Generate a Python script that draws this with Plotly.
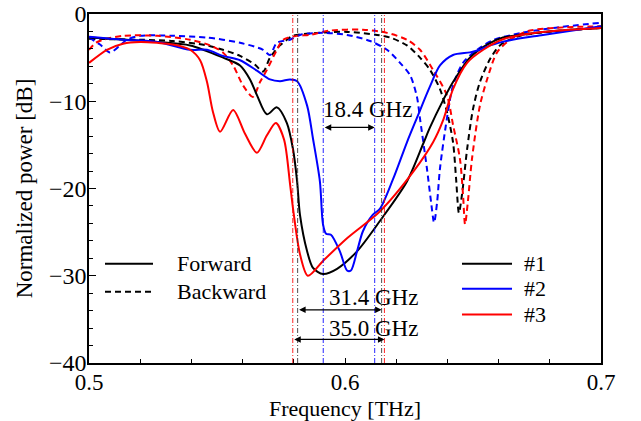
import plotly.graph_objects as go

# ---------------- data ----------------
# Device #1 (black)
f1_fwd = [0.5, 0.5266, 0.5395, 0.5524, 0.559, 0.5629, 0.5656, 0.5695, 0.5734, 0.5773,
          0.5797, 0.5813, 0.5824, 0.5852, 0.5875, 0.5914, 0.5969, 0.6047, 0.6137, 0.6242,
          0.6305, 0.6332, 0.6383, 0.6422, 0.6488, 0.6555, 0.6617, 0.6711, 0.684, 0.7]
p1_fwd = [-2.7, -3.2, -3.6, -5.0, -5.9, -7.5, -9.3, -11.5, -10.7, -12.5,
          -15.5, -19.2, -23.0, -27.2, -29.1, -29.8, -29.2, -27.2, -23.7, -19.2,
          -14.9, -13.0, -9.9, -7.8, -5.0, -3.5, -2.7, -2.3, -1.9, -1.6]
f1_bwd = [0.5, 0.5199, 0.5328, 0.5461, 0.5523, 0.559, 0.5648, 0.568, 0.5707, 0.5746,
          0.5773, 0.5797, 0.5875, 0.6008, 0.6125, 0.6176, 0.6242, 0.6293, 0.6332, 0.6371,
          0.6398, 0.6422, 0.6434, 0.6445, 0.6457, 0.6477, 0.65, 0.6527, 0.6566, 0.6605,
          0.6684, 0.7]
p1_bwd = [-2.85, -2.95, -3.1, -3.6, -4.1, -4.8, -5.8, -6.6, -5.0, -3.6,
          -2.95, -2.5, -2.2, -2.05, -2.4, -2.7, -3.6, -5.0, -6.4, -8.6,
          -11.2, -14.7, -18.9, -22.8, -20.7, -15.5, -10.9, -7.8, -5.2, -3.6,
          -2.5, -1.6]

# Device #2 (blue)
f2_fwd = [0.5, 0.5133, 0.5266, 0.5395, 0.5461, 0.5523, 0.559, 0.5656, 0.5707, 0.5746,
          0.5785, 0.5813, 0.5852, 0.5875, 0.5902, 0.5914, 0.5926, 0.5945, 0.598, 0.6008,
          0.6023, 0.6047, 0.607, 0.6109, 0.6137, 0.6188, 0.6242, 0.6281, 0.6332, 0.6371,
          0.6422, 0.6488, 0.6527, 0.6566, 0.6645, 0.6773, 0.7]
p2_fwd = [-2.6, -2.95, -3.2, -4.1, -4.1, -4.8, -5.3, -6.5, -7.5, -7.7,
          -7.5, -7.7, -10.5, -14.3, -19.2, -24.1, -25.2, -25.3, -27.2, -29.4,
          -29.4, -27.2, -24.9, -23.0, -22.3, -18.9, -14.7, -11.9, -8.3, -5.9,
          -4.7, -4.4, -4.1, -3.6, -3.0, -2.4, -1.4]
f2_bwd = [0.5, 0.5043, 0.5082, 0.5121, 0.5148, 0.5199, 0.5328, 0.5461, 0.559, 0.568,
          0.5707, 0.5734, 0.5785, 0.5824, 0.5914, 0.6008, 0.6098, 0.6164, 0.6215, 0.6254,
          0.6281, 0.6293, 0.632, 0.6336, 0.6348, 0.636, 0.6371, 0.6398, 0.6422, 0.6461,
          0.6516, 0.6578, 0.6684, 0.6813, 0.7]
p2_bwd = [-2.7, -3.5, -4.4, -3.6, -2.95, -2.5, -2.5, -2.7, -3.3, -4.1,
          -4.7, -3.3, -2.95, -2.4, -2.16, -2.4, -3.1, -4.1, -5.6, -7.0,
          -9.5, -12.0, -17.7, -21.5, -23.9, -21.5, -17.7, -12.0, -8.2, -5.6,
          -4.1, -3.0, -2.2, -1.6, -1.0]

# Device #3 (red)
f3_fwd = [0.5, 0.507, 0.5133, 0.52, 0.5266, 0.5328, 0.5395, 0.5434, 0.5461, 0.5484,
          0.5512, 0.5563, 0.5609, 0.5656, 0.5695, 0.573, 0.5762, 0.5785, 0.5797, 0.5824,
          0.5855, 0.5914, 0.6008, 0.6137, 0.6266, 0.6344, 0.6383, 0.6422, 0.6477, 0.654,
          0.6617, 0.6711, 0.6836, 0.7]
p3_fwd = [-5.6, -4.1, -3.4, -3.2, -3.3, -3.5, -4.1, -5.3, -7.8, -11.2,
          -13.5, -11.0, -13.7, -15.9, -13.9, -12.5, -14.4, -19.4, -22.3, -27.5,
          -30.0, -28.3, -25.7, -22.6, -18.1, -14.7, -12.2, -8.6, -5.6, -4.1,
          -2.9, -2.3, -1.9, -1.6]
f3_bwd = [0.5, 0.5027, 0.5055, 0.5133, 0.5266, 0.5395, 0.5473, 0.5523, 0.5563, 0.5602,
          0.564, 0.5668, 0.5695, 0.5734, 0.5758, 0.5813, 0.5863, 0.5941, 0.607, 0.6164,
          0.6242, 0.6293, 0.6344, 0.6398, 0.6422, 0.6449, 0.6461, 0.6469, 0.648, 0.6496,
          0.6527, 0.6555, 0.6594, 0.6645, 0.6723, 0.7]
p3_bwd = [-4.1, -3.3, -2.95, -2.5, -2.5, -2.95, -3.6, -4.4, -5.9, -8.2,
          -9.5, -7.8, -6.4, -4.1, -2.95, -2.5, -2.4, -1.9, -1.8, -2.16,
          -2.95, -4.1, -6.4, -9.3, -12.7, -16.6, -20.7, -24.1, -21.5, -16.6,
          -10.5, -7.5, -4.4, -2.95, -1.9, -1.4]

device_names = ["#1", "#2", "#3"]
direction_names = ["Forward", "Backward"]
# band edges (THz) of each device and the bandwidth label
band_lo = [0.5815, 0.5915, 0.5796]
band_hi = [0.6143, 0.6116, 0.6154]
band_labels = ["31.4 GHz", "18.4 GHz", "35.0 GHz"]

# ---------------- styling / layout ----------------
colors = ["#000000", "#0000ff", "#ff0000"]
vline_colors = ["#333333", "#0000ff", "#ff0000"]
arrow_levels = [-33.9, -13.0, -37.3]          # y (dB) of each bandwidth arrow
label_pos = [(0.611, -32.5), (0.6086, -10.9), (0.611, -36.0)]
FONT = "Liberation Serif, Times New Roman, serif"
DASH = "6px,4px"

fwd = [(f1_fwd, p1_fwd), (f2_fwd, p2_fwd), (f3_fwd, p3_fwd)]
bwd = [(f1_bwd, p1_bwd), (f2_bwd, p2_bwd), (f3_bwd, p3_bwd)]

fig = go.Figure()

for i in range(3):
    fb, pb = bwd[i]
    fig.add_trace(go.Scatter(x=fb, y=pb, mode="lines", name=device_names[i] + " backward",
                             line=dict(color=colors[i], width=2, dash=DASH,
                                       shape="spline", smoothing=0.8)))
for i in range(3):
    ff, pf = fwd[i]
    fig.add_trace(go.Scatter(x=ff, y=pf, mode="lines", name=device_names[i] + " forward",
                             line=dict(color=colors[i], width=2,
                                       shape="spline", smoothing=0.8)))

# band-edge markers and arrows
for i in range(3):
    for xe in (band_lo[i], band_hi[i]):
        fig.add_shape(type="line", xref="x", yref="y", x0=xe, x1=xe, y0=-40, y1=0,
                      line=dict(color=vline_colors[i], width=1, dash="5px,2px,1px,2px"),
                      opacity=0.85)
    fig.add_annotation(x=band_hi[i], y=arrow_levels[i], ax=band_lo[i], ay=arrow_levels[i],
                       xref="x", yref="y", axref="x", ayref="y", text="",
                       showarrow=True, arrowhead=2, arrowside="end+start",
                       arrowsize=1, arrowwidth=1.3, arrowcolor="black",
                       standoff=0, startstandoff=0)
    fig.add_annotation(x=label_pos[i][0], y=label_pos[i][1], xref="x", yref="y",
                       text=band_labels[i], showarrow=False,
                       font=dict(family=FONT, size=23, color="black"))

# legends (drawn in paper coordinates)
for j, yy in enumerate([0.2841, 0.2045]):
    fig.add_shape(type="line", xref="paper", yref="paper", x0=0.03125, x1=0.125, y0=yy, y1=yy,
                  line=dict(color="black", width=2, dash=None if j == 0 else DASH))
    fig.add_annotation(x=0.168, y=yy, xref="paper", yref="paper", text=direction_names[j],
                       showarrow=False, xanchor="left", yanchor="middle",
                       font=dict(family=FONT, size=22, color="black"))
for i, yy in enumerate([0.2841, 0.2131, 0.1392]):
    fig.add_shape(type="line", xref="paper", yref="paper", x0=0.7285, x1=0.8262, y0=yy, y1=yy,
                  line=dict(color=colors[i], width=2))
    fig.add_annotation(x=0.8457, y=yy, xref="paper", yref="paper", text=device_names[i],
                       showarrow=False, xanchor="left", yanchor="middle",
                       font=dict(family=FONT, size=22, color="black"))

# x-axis title placed below tick labels
fig.add_annotation(x=0.5, y=-0.13, xref="paper", yref="paper", text="Frequency [THz]",
                   showarrow=False, xanchor="center", yanchor="middle",
                   font=dict(family=FONT, size=22, color="black"))

axis_common = dict(showline=True, linecolor="black", linewidth=1.5, mirror=True,
                   showgrid=False, zeroline=False, ticks="inside", tickcolor="black",
                   tickwidth=1, automargin=False, ticklabeloverflow="allow")

fig.update_layout(
    width=641, height=421,
    margin=dict(l=89, r=40, t=14, b=58),
    plot_bgcolor="white", paper_bgcolor="white",
    showlegend=False,
    font=dict(family=FONT, size=22, color="black"),
    xaxis=dict(range=[0.5, 0.7], tick0=0.5, dtick=0.1, ticklen=5, ticklabelstandoff=-2,
               tickfont=dict(family=FONT, size=23, color="black"),
               minor=dict(dtick=0.02, ticks="inside", ticklen=4, tickcolor="black"),
               **axis_common),
    yaxis=dict(range=[-40, 0], tick0=0, dtick=10, ticklen=7, ticklabelstandoff=-4,
               tickfont=dict(family=FONT, size=24, color="black"),
               minor=dict(dtick=2, ticks="inside", ticklen=4, tickcolor="black"),
               title=dict(text="Normalized power [dB]", font=dict(family=FONT, size=23), standoff=10),
               **axis_common),
)

fig.write_html("out.html")
